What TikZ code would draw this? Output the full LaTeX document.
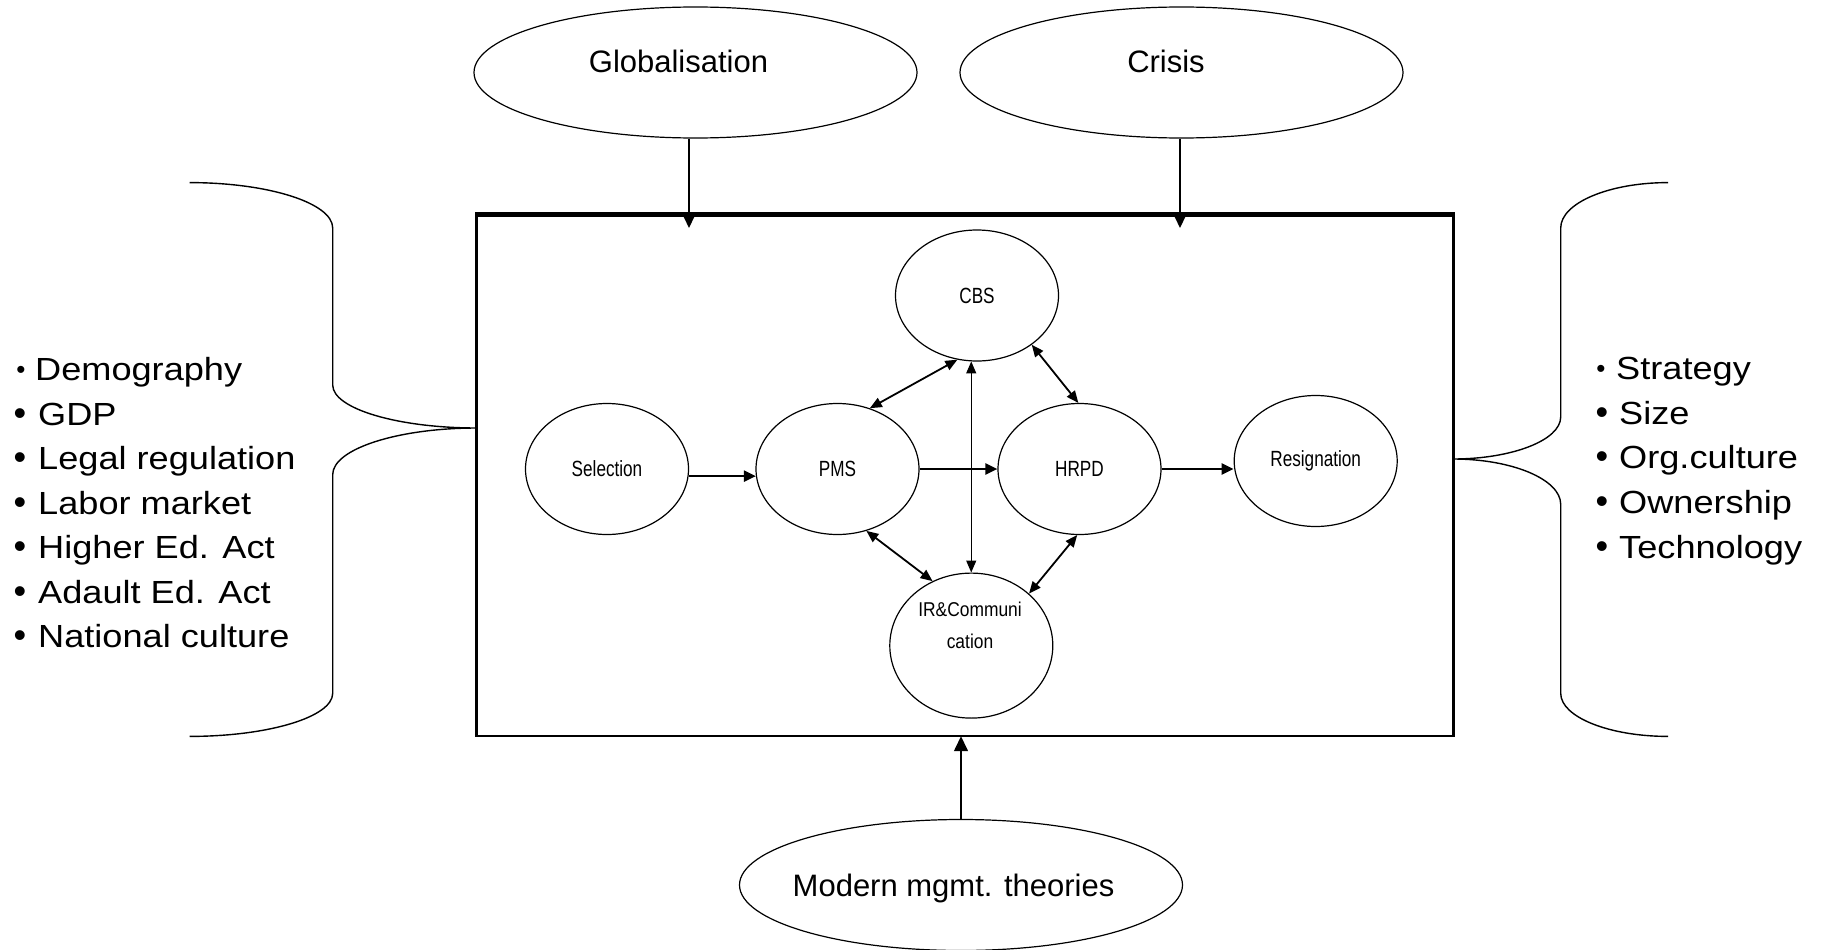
\documentclass[tikz,border=0pt]{standalone}
\usepackage{fontspec}
\setmainfont{Liberation Sans}
\usetikzlibrary{shapes.geometric,arrows.meta,calc}

% horizontally adjusted labels
\newcommand\wideT[1]{\scalebox{1.13}[1]{#1}}
\newcommand\slimT[1]{\scalebox{0.78}[1]{#1}}
\newcommand\slimIR[1]{\scalebox{0.87}[1]{#1}}

\begin{document}
\begin{tikzpicture}[x=1pt,y=-1pt,
  outer/.style={draw, ellipse, line width=1.2pt, minimum width=443pt, minimum height=131pt, inner sep=0pt},
  inner/.style={draw, ellipse, line width=1.2pt, minimum width=163pt, minimum height=131pt, inner sep=0pt,
    font=\fontsize{22}{26}\selectfont},
  biglabel/.style={anchor=base, inner sep=0pt, font=\fontsize{31}{37}\selectfont},
  listtext/.style={anchor=base west, inner sep=0pt, font=\fontsize{32}{38}\selectfont},
  bulletmark/.style={anchor=base, inner sep=0pt, font=\fontsize{36}{36}\selectfont},
  smallbullet/.style={anchor=base, inner sep=0pt, font=\fontsize{26}{26}\selectfont},
  flow/.style={-{Triangle[length=12pt,width=11pt]}, line width=2.2pt},
  link/.style={{Triangle[length=12pt,width=10pt]}-{Triangle[length=12pt,width=10pt]}, line width=1.8pt},
  feed/.style={-{Triangle[length=15pt,width=14pt]}, line width=1.5pt},
  brace/.style={line width=1.4pt},
]
\useasboundingbox (0,0) rectangle (1824,950);

% external influences
\node[outer] (glob) at (695.5,72.5) {};
\node[biglabel] (globtext) at (678.5,72.7) {Globalisation};
\node[outer] (crisis) at (1181.5,72.5) {};
\node[biglabel] (crisistext) at (1166,72.7) {Crisis};
\node[outer] (modern) at (961,885) {};
\node[biglabel] (moderntext) at (953.5,896.7) {Modern mgmt. theories};

% organisation frame
\node[minimum width=976pt, minimum height=521pt, inner sep=0pt] (frame) at (965,475.5) {};
\draw[line width=3pt] (frame.north west) -- (frame.south west);
\draw[line width=3pt] (frame.north east) -- (frame.south east);
\draw[line width=2pt] ([xshift=-1.5pt]frame.south west) -- ([xshift=1.5pt]frame.south east);
\draw[line width=5pt] ([xshift=-1.5pt]frame.north west) -- ([xshift=1.5pt]frame.north east);

% HRM processes
\node[inner] (cbs) at (977,295.5) {\slimT{CBS}};
\node[inner] (sel) at (607,469) {\slimT{Selection}};
\node[inner] (pms) at (837.5,469) {\slimT{PMS}};
\node[inner] (hrpd) at (1079.5,469) {\slimT{HRPD}};
\node[inner] (res) at (1315.7,461) {\slimT{Resignation}};
\node[inner, minimum height=145pt] (ir) at (971.3,645.6) {};
\node[anchor=base, inner sep=0pt, font=\fontsize{20}{31.6}\selectfont] (irtext) at (970,616.7)
  {\slimIR{\begin{tabular}[t]{@{}c@{}}IR\&Communi\\cation\end{tabular}}};

% process flow
\draw[flow] (sel.-5) -- (pms.185);
\draw[flow] (pms.east) -- (hrpd.west);
\draw[flow] (hrpd.east) -- (hrpd.east -| res.west);

% mutual links
\draw[link] (cbs.253) -- (pms.62);
\draw[link, line width=1.2pt] (cbs.265) -- (cbs.265 |- ir.north);
\draw[link] (cbs.318) -- (hrpd.91);
\draw[link] (pms.295) -- (ir.121);
\draw[link] (hrpd.268) -- (ir.42);

% influences on the frame
\coordinate (gtip) at (689,228);
\coordinate (ctip) at (1180,228);
\draw[feed] (gtip |- glob.south) -- (gtip);
\draw[feed] (ctip |- crisis.south) -- (ctip);
\draw[feed] (modern.north) -- (modern.north |- frame.south);

% braces
\coordinate (ltip) at (477,428);
\coordinate (rtip) at (1453,459);
\draw[brace] (189.6,182.6) .. controls (268.3,182.6) and (332.7,203) .. (332.7,228)
  -- (332.7,385) .. controls (332.7,408.7) and (397.6,428) .. (ltip)
  .. controls (397.6,428) and (332.7,449) .. (332.7,474.6)
  -- (332.7,693.3) .. controls (332.7,717) and (268.3,736.4) .. (189.6,736.4);
\draw[brace] (1668,182.6) .. controls (1609,182.6) and (1560.7,203) .. (1560.7,228)
  -- (1560.7,417) .. controls (1560.7,440.1) and (1512.2,459) .. (rtip)
  .. controls (1512.2,459) and (1560.7,479.4) .. (1560.7,504.3)
  -- (1560.7,693.3) .. controls (1560.7,717) and (1609,736.4) .. (1668,736.4);

% national factors
\node[smallbullet] (lb1) at (21,378) {•};
\node[listtext] (lt1) at (35,380.5) {\wideT{Demography}};
\foreach \txt/\yy/\nm in {GDP/425/2, Legal regulation/469.5/3, Labor market/514/4,
    Higher Ed. Act/558.5/5, Adault Ed. Act/603/6, National culture/647.5/7} {
  \node[bulletmark] (lb\nm) at (20,\yy) {•};
  \node[listtext] (lt\nm) at (38,\yy) {\wideT{\txt}};
}

% organisational factors
\node[smallbullet] (rb1) at (1601,377) {•};
\node[listtext] (rt1) at (1616,379.3) {\wideT{Strategy}};
\foreach \txt/\yy/\nm in {Size/424/2, Org.culture/468.7/3, Ownership/513.4/4, Technology/558.1/5} {
  \node[bulletmark] (rb\nm) at (1602,\yy) {•};
  \node[listtext] (rt\nm) at (1619,\yy) {\wideT{\txt}};
}
\end{tikzpicture}
\end{document}
